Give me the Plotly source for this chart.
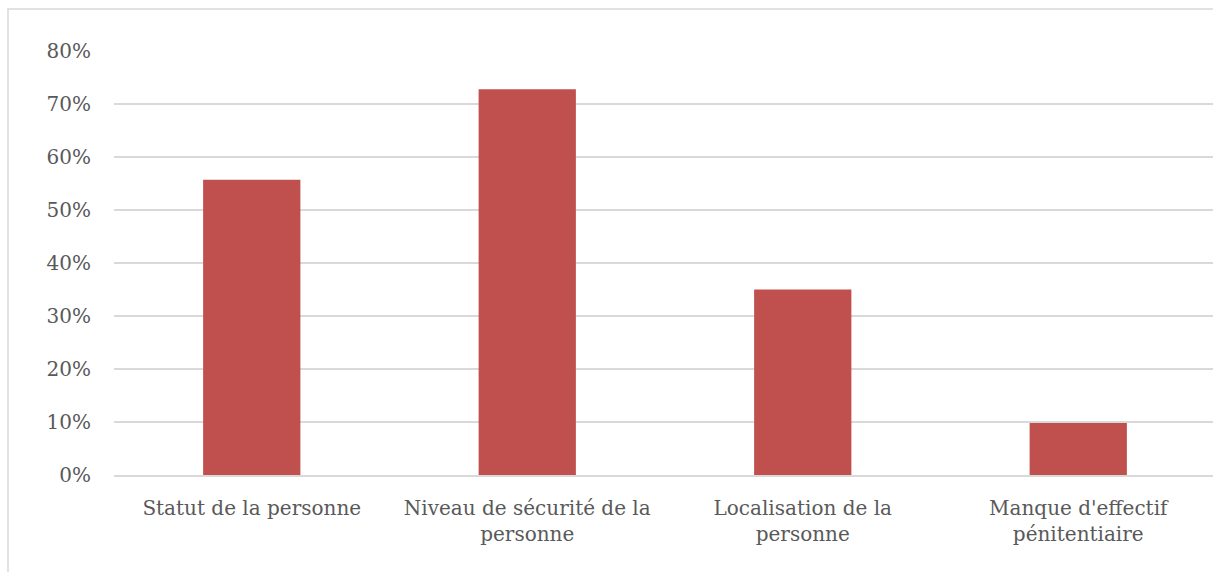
import plotly.graph_objects as go

categories = [
    "Statut de la personne",
    "Niveau de sécurité de la<br>personne",
    "Localisation de la<br>personne",
    "Manque d'effectif<br>pénitentiaire",
]
values = [0.557, 0.728, 0.35, 0.098]
y_ticks = [0, 0.1, 0.2, 0.3, 0.4, 0.5, 0.6, 0.7, 0.8]
y_labels = ["0%", "10%", "20%", "30%", "40%", "50%", "60%", "70%", "80%"]

# plot area runs a few pixels past the right edge of the window, as in the reference
W, H = 1216, 572
ML, MR, MT, MB = 114, 0, 51, 97
pw = W - ML - MR
ph = H - MT - MB

fig = go.Figure(
    go.Bar(x=categories, y=values, marker=dict(color="#c0504d", line=dict(width=0)),
           hoverinfo="skip")
)

font = dict(family="DejaVu Serif, serif", size=20, color="#595959")

fig.update_layout(
    width=W, height=H,
    margin=dict(l=ML, r=MR, t=MT, b=MB),
    paper_bgcolor="white", plot_bgcolor="white",
    bargap=0.647,
    showlegend=False,
    font=font,
    xaxis=dict(showgrid=False, showline=True, linecolor="#d9d9d9", linewidth=2,
               ticks="", tickfont=font, ticklabelstandoff=14),
    yaxis=dict(range=[0, 0.8], tickvals=y_ticks, ticktext=y_labels,
               showgrid=True, gridcolor="#d9d9d9", gridwidth=1.5,
               zeroline=False, showline=False, ticks="", tickfont=font,
               ticklabelstandoff=22),
    shapes=[dict(type="rect", xref="paper", yref="paper",
                 x0=(8 - ML) / pw, x1=(W + 10 - ML) / pw,
                 y0=-(MB + 10) / ph, y1=1 + (MT - 9) / ph,
                 line=dict(color="#d9d9d9", width=1.5), layer="below")],
)

fig.write_html(
    "out.html",
    config={"displayModeBar": False},
    post_script=(
        "document.body.style.margin='0px';"
        "document.body.style.overflow='hidden';"
        "document.documentElement.style.overflow='hidden';"
    ),
)
